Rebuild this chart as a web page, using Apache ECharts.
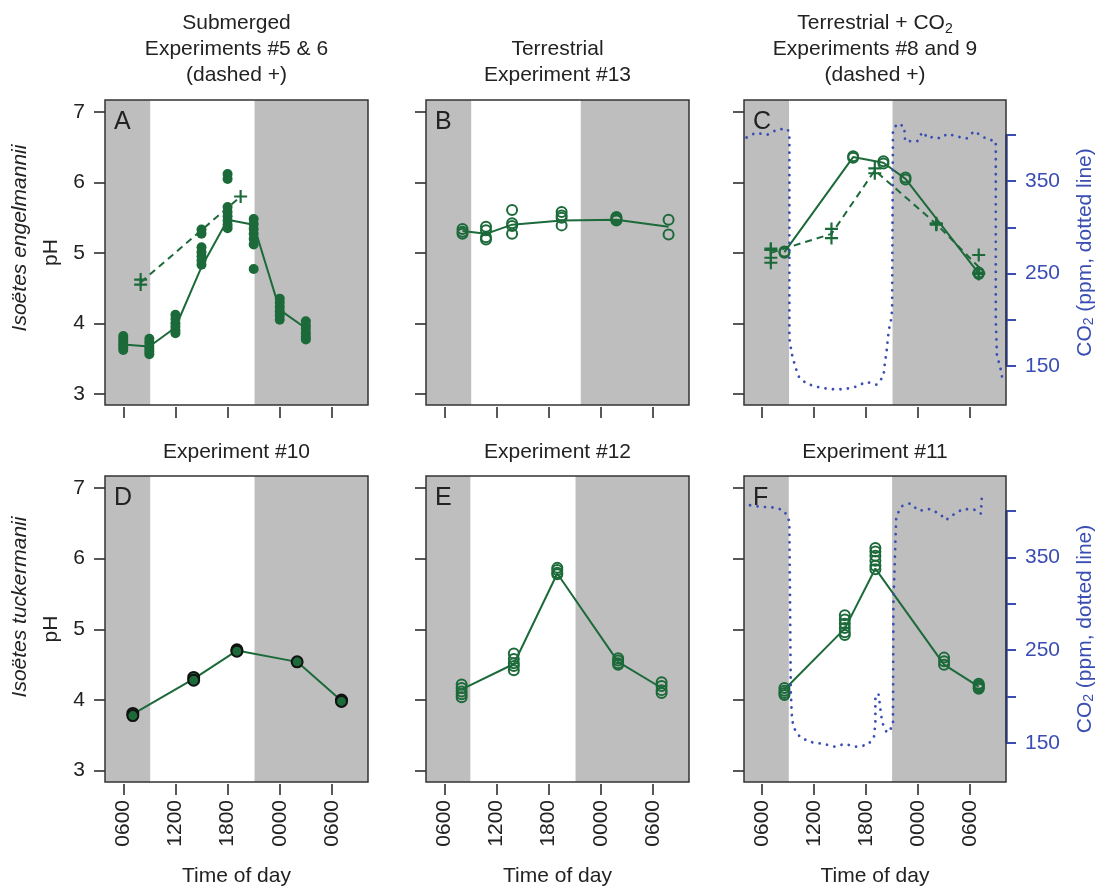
<!DOCTYPE html>
<html>
<head>
<meta charset="utf-8">
<script src="https://cdn.jsdelivr.net/npm/echarts@6/dist/echarts.min.js"></script>
<style>
  html, body { margin: 0; padding: 0; background: #fff; }
  #chart { width: 1099px; height: 889px; }
</style>
</head>
<body>
<div id="chart"></div>
<script>
// tick labels
const xTicks = [6, 12, 18, 24, 30];
const xTickLabels = ['0600', '1200', '1800', '0000', '0600'];
const phTicks = [3, 4, 5, 6, 7];
const co2Ticks = [150, 200, 250, 300, 350, 400];
const co2Labels = [150, 250, 350];

// A - I. engelmannii, submerged #5 (solid) and #6 (dashed +)
const aDay = [9.1, 21.1];
const aTimes = [6, 9, 12, 15, 18, 21, 24, 27];
const aPH = [
  [3.82, 3.78, 3.74, 3.70, 3.66, 3.62],
  [3.78, 3.73, 3.68, 3.64, 3.60, 3.56],
  [4.12, 4.06, 4.00, 3.95, 3.90, 3.86],
  [5.33, 5.27, 5.08, 5.01, 4.95, 4.89, 4.83],
  [6.12, 6.05, 5.65, 5.58, 5.52, 5.46, 5.40, 5.35],
  [5.48, 5.41, 5.34, 5.27, 5.20, 5.12, 4.77],
  [4.35, 4.29, 4.23, 4.17, 4.11, 4.05],
  [4.03, 3.97, 3.92, 3.86, 3.81, 3.77]
];
const aLine = [3.70, 3.67, 3.94, 4.80, 5.47, 5.40, 4.19, 3.93];
const aDashTimes = [8, 19.5];
const aDashPH = [[4.62, 4.55], [5.80]];
const aDashLine = [4.58, 5.80];

// B - terrestrial #13
const bDay = [9.1, 21.7];
const bTimes = [8.1, 10.8, 13.8, 19.5, 25.8, 31.8];
const bPH = [
  [5.34, 5.30, 5.27],
  [5.37, 5.32, 5.22, 5.19],
  [5.61, 5.42, 5.38, 5.27],
  [5.58, 5.53, 5.50, 5.39],
  [5.51, 5.49, 5.47, 5.46],
  [5.47, 5.26]
];
const bLine = [5.31, 5.27, 5.40, 5.46, 5.47, 5.37];

// C - terrestrial + CO2, #8 (solid o) and #9 (dashed +)
const cDay = [9.1, 21.05];
const cTimes = [8.57, 16.5, 20.0, 22.55, 31.0];
const cPH = [[5.02, 5.00], [6.37, 6.35], [6.30, 6.27], [6.07, 6.04], [4.72, 4.70]];
const cLine = [5.01, 6.36, 6.28, 6.05, 4.71];
const cDashTimes = [7.0, 14.0, 19.0, 26.1, 31.0];
const cDashPH = [[5.06, 5.04, 4.93, 4.86], [5.34, 5.21], [6.20, 6.13], [5.42, 5.41, 5.40], [4.97, 4.72, 4.70]];
const cDashLine = [5.00, 5.27, 6.17, 5.41, 4.80];
const cCO2Times = [4.2, 5.2, 6.6, 7.8, 8.95, 9.14, 9.14, 9.4, 9.8, 10.2, 11.1, 12.6, 14.0, 15.5, 16.9,
  18.0, 19.2, 20.0, 20.15, 20.35, 20.6, 20.9, 21.0, 21.1, 21.6, 22.4, 22.5, 23.9, 24.5, 25.2,
  25.8, 26.55, 27.4, 28.5, 29.6, 30.5, 31.1, 32.0, 32.97, 32.97, 33.1, 33.47, 33.74];
const cCO2 = [397, 402, 400, 406, 406, 400, 180, 164, 150, 139, 131, 127, 125, 125, 128,
  133, 130, 139, 152, 165, 188, 201, 211, 405, 412, 409, 393, 393, 403, 396,
  398, 396, 401, 398, 396, 404, 400, 395, 393, 200, 161, 150, 136];

// D - I. tuckermanii #10
const dDay = [9.1, 21.1];
const dTimes = [7.1, 14.1, 19.07, 26.0, 31.1];
const dPH = [[3.81, 3.78], [4.32, 4.28], [4.71, 4.69], [4.54], [4.00, 3.98]];
const dLine = [3.80, 4.30, 4.70, 4.54, 3.99];

// E - #12
const eDay = [9.0, 21.1];
const eTimes = [8.0, 14.0, 19.0, 26.0, 31.0];
const ePH = [
  [4.22, 4.17, 4.12, 4.08, 4.04],
  [4.66, 4.58, 4.52, 4.48, 4.42],
  [5.87, 5.84, 5.80, 5.78],
  [4.59, 4.56, 4.52, 4.50],
  [4.25, 4.20, 4.14, 4.10]
];
const eLine = [4.15, 4.51, 5.79, 4.54, 4.17];

// F - #11
const fDay = [9.07, 21.0];
const fTimes = [8.57, 15.54, 19.07, 27.0, 31.0];
const fPH = [
  [4.17, 4.13, 4.10, 4.07],
  [5.20, 5.14, 5.08, 5.02, 4.96, 4.92],
  [6.15, 6.10, 6.04, 5.97, 5.90, 5.85],
  [4.60, 4.55, 4.50],
  [4.23, 4.21, 4.19, 4.17, 4.16]
];
const fLine = [4.15, 5.01, 5.86, 4.50, 4.19];
const fCO2Times = [4.6, 6.1, 7.0, 8.4, 9.02, 9.14, 9.3, 9.41, 9.6, 10.4, 11.6, 13.1, 14.4, 15.5, 16.8,
  18.2, 18.9, 19.07, 19.07, 19.07, 19.45, 19.64, 19.87, 20.4, 21.1, 21.15, 21.48, 22.1, 23.1, 24.1,
  25.4, 26.6, 27.2, 28.1, 29.2, 30.7, 31.25, 31.3, 31.4];
const fCO2 = [406, 404, 404, 401, 393, 385, 206, 181, 167, 156, 151, 149, 146, 149, 146,
  148, 156, 172, 187, 202, 202, 187, 172, 161, 168, 300, 394, 405, 408, 400,
  402, 396, 390, 396, 402, 401, 397, 406, 421];

const FONT = '"Liberation Sans", Arial, Helvetica, sans-serif';
const GREEN = '#1c6a3a';
const BLUE = '#3a4db3';
const NIGHT = '#bebebe';
const INK = '#222';
const PLUS = 'path://M5,0H7V5H12V7H7V12H5V7H0V5H5Z';

const X_MIN = 3.9, X_MAX = 34.15;
const PH_MIN = 2.84, PH_MAX = 7.17;
const CO2_MIN = 108, CO2_MAX = 437.5;

const COLS = [{ left: 105, width: 263 }, { left: 426, width: 263 }, { left: 744, width: 262 }];
const ROWS = [{ top: 100, height: 305 }, { top: 476, height: 306 }];

const MARKERS = {
  filled: { symbol: 'circle', symbolSize: 10, itemStyle: { color: GREEN, opacity: 1 } },
  hollow: { symbol: 'circle', symbolSize: 10, itemStyle: { color: 'transparent', borderColor: GREEN, borderWidth: 2, opacity: 1 } },
  outlined: { symbol: 'circle', symbolSize: 11, itemStyle: { color: GREEN, borderColor: '#111', borderWidth: 2, opacity: 1 } },
  plus: { symbol: PLUS, symbolSize: 13, itemStyle: { color: GREEN, opacity: 1 } }
};

function zip(t, v) {
  return t.map((x, i) => [x, v[i]]);
}
function spread(t, groups) {
  let out = [];
  groups.forEach((g, i) => g.forEach(v => out.push([t[i], v])));
  return out;
}

const option = {
  animation: false,
  backgroundColor: '#fff',
  textStyle: { fontFamily: FONT },
  grid: [], xAxis: [], yAxis: [], series: [], title: [], graphic: []
};

function addPanel(p) {
  const g = option.grid.length;
  const col = COLS[p.col], row = ROWS[p.row];
  option.grid.push({
    left: col.left, top: row.top, width: col.width, height: row.height,
    show: true, backgroundColor: 'transparent', borderColor: '#333', borderWidth: 1.5, z: 10
  });

  const xi = option.xAxis.length;
  option.xAxis.push({
    gridIndex: g, type: 'value', min: X_MIN, max: X_MAX, offset: 2,
    axisLine: { show: false }, splitLine: { show: false },
    axisTick: { show: true, customValues: xTicks, length: 11, lineStyle: { color: INK, width: 1.5 } },
    axisLabel: {
      show: p.row === 1, customValues: xTicks, rotate: 90, margin: 16,
      fontSize: 21, color: INK, fontFamily: FONT,
      formatter: v => xTickLabels[xTicks.indexOf(v)]
    },
    name: p.row === 1 ? 'Time of day' : '', nameLocation: 'middle', nameGap: 82,
    nameTextStyle: { fontSize: 21, color: INK, fontFamily: FONT }
  });

  const yi = option.yAxis.length;
  option.yAxis.push({
    gridIndex: g, type: 'value', min: PH_MIN, max: PH_MAX,
    axisLine: { show: false }, splitLine: { show: false },
    axisTick: { show: true, customValues: phTicks, length: 11, lineStyle: { color: INK, width: 1.5 } },
    axisLabel: { show: p.col === 0, customValues: phTicks, margin: 20, fontSize: 21, color: INK, fontFamily: FONT },
    name: p.col === 0 ? 'pH' : '', nameLocation: 'middle', nameRotate: 90, nameGap: 43,
    nameTextStyle: { fontSize: 21, color: INK, fontFamily: FONT }
  });

  // night shading
  option.series.push({
    type: 'line', xAxisIndex: xi, yAxisIndex: yi, data: [], z: 1, silent: true,
    markArea: {
      silent: true, itemStyle: { color: NIGHT },
      data: [[{ xAxis: X_MIN }, { xAxis: p.day[0] }], [{ xAxis: p.day[1] }, { xAxis: X_MAX }]]
    }
  });

  if (p.co2) {
    const yc = option.yAxis.length;
    option.yAxis.push({
      gridIndex: g, type: 'value', position: 'right', min: CO2_MIN, max: CO2_MAX,
      axisLine: { show: false }, splitLine: { show: false },
      axisTick: { show: true, customValues: co2Ticks, length: 10, lineStyle: { color: BLUE, width: 2 } },
      axisLabel: { customValues: co2Labels, margin: 19, fontSize: 21, color: BLUE, fontFamily: FONT },
      name: 'CO{sub|2} (ppm, dotted line)', nameLocation: 'middle', nameRotate: 90, nameGap: 69,
      nameTextStyle: {
        fontSize: 21, color: BLUE, fontFamily: FONT,
        rich: { sub: { fontSize: 14, color: BLUE, fontFamily: FONT, verticalAlign: 'bottom' } }
      }
    });
    // CO2 trace, with the coloured axis segment from the lowest to the highest CO2 tick
    option.series.push({
      type: 'line', xAxisIndex: xi, yAxisIndex: yc, data: zip(p.co2.t, p.co2.v),
      symbol: 'none', z: 11, silent: true, clip: false,
      lineStyle: { color: BLUE, width: 2.8, type: [0.01, 7.5], cap: 'round' },
      markLine: {
        silent: true, symbol: 'none', label: { show: false },
        lineStyle: { color: BLUE, width: 2.5, type: 'solid' },
        data: [[{ coord: [X_MAX, co2Ticks[0]] }, { coord: [X_MAX, co2Ticks[co2Ticks.length - 1]] }]]
      }
    });
  }

  p.sets.forEach(s => {
    option.series.push({
      type: 'line', xAxisIndex: xi, yAxisIndex: yi, data: zip(s.t, s.line),
      symbol: 'none', z: 3, silent: true,
      lineStyle: { color: GREEN, width: 2, type: s.dashed ? [7, 5] : 'solid' }
    });
  });
  p.sets.forEach(s => {
    option.series.push(Object.assign({
      type: 'scatter', xAxisIndex: xi, yAxisIndex: yi, data: spread(s.t, s.pts), z: 4, silent: true
    }, MARKERS[s.marker]));
  });

  option.title.push({
    text: p.letter, left: col.left + 9, top: row.top + 10, padding: 0,
    textStyle: { fontSize: 25, fontWeight: 'normal', color: INK, fontFamily: FONT }
  });
  option.title.push({
    text: p.title, left: col.left + col.width / 2, top: p.titleTop, padding: 0, textAlign: 'center',
    textStyle: {
      fontSize: 21, fontWeight: 'normal', color: INK, fontFamily: FONT, lineHeight: 26,
      rich: { sub: { fontSize: 14, color: INK, fontFamily: FONT, verticalAlign: 'bottom', lineHeight: 26 } }
    }
  });
}

addPanel({
  col: 0, row: 0, letter: 'A', day: aDay, titleTop: 10,
  title: 'Submerged\nExperiments #5 & 6\n(dashed +)',
  sets: [
    { t: aTimes, pts: aPH, line: aLine, marker: 'filled' },
    { t: aDashTimes, pts: aDashPH, line: aDashLine, marker: 'plus', dashed: true }
  ]
});
addPanel({
  col: 1, row: 0, letter: 'B', day: bDay, titleTop: 36,
  title: 'Terrestrial\nExperiment #13',
  sets: [{ t: bTimes, pts: bPH, line: bLine, marker: 'hollow' }]
});
addPanel({
  col: 2, row: 0, letter: 'C', day: cDay, titleTop: 10,
  title: 'Terrestrial + CO{sub|2}\nExperiments #8 and 9\n(dashed +)',
  co2: { t: cCO2Times, v: cCO2 },
  sets: [
    { t: cTimes, pts: cPH, line: cLine, marker: 'hollow' },
    { t: cDashTimes, pts: cDashPH, line: cDashLine, marker: 'plus', dashed: true }
  ]
});
addPanel({
  col: 0, row: 1, letter: 'D', day: dDay, titleTop: 439,
  title: 'Experiment #10',
  sets: [{ t: dTimes, pts: dPH, line: dLine, marker: 'outlined' }]
});
addPanel({
  col: 1, row: 1, letter: 'E', day: eDay, titleTop: 439,
  title: 'Experiment #12',
  sets: [{ t: eTimes, pts: ePH, line: eLine, marker: 'hollow' }]
});
addPanel({
  col: 2, row: 1, letter: 'F', day: fDay, titleTop: 439,
  title: 'Experiment #11',
  co2: { t: fCO2Times, v: fCO2 },
  sets: [{ t: fTimes, pts: fPH, line: fLine, marker: 'hollow' }]
});

// species names beside the pH axes
[['Isoëtes engelmannii', 238], ['Isoëtes tuckermanii', 607]].forEach(([name, y]) => {
  option.graphic.push({
    type: 'text', x: 20, y: y, rotation: Math.PI / 2, silent: true,
    style: {
      text: name, font: 'italic 21px ' + FONT, fill: INK,
      align: 'center', verticalAlign: 'middle', textAlign: 'center', textVerticalAlign: 'middle'
    }
  });
});

const chart = echarts.init(document.getElementById('chart'));
chart.setOption(option);
</script>
</body>
</html>
